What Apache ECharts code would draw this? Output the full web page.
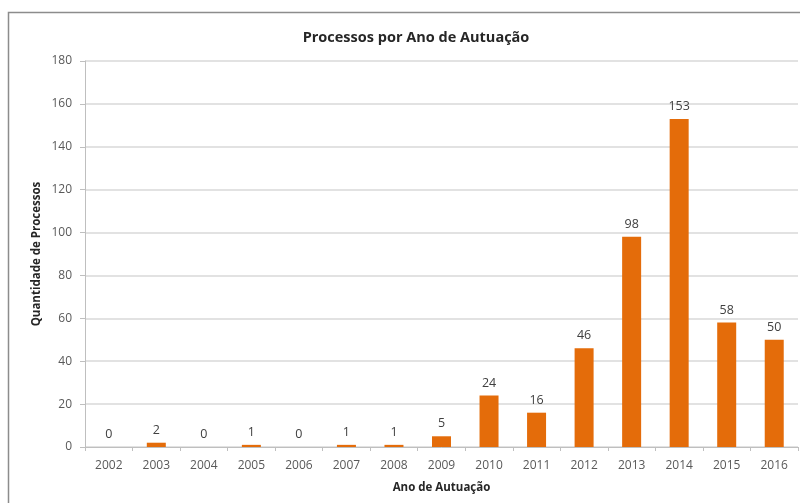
<!DOCTYPE html>
<html>
<head>
<meta charset="utf-8">
<script src="https://cdn.jsdelivr.net/npm/echarts@6/dist/echarts.min.js"></script>
<style>
  html, body { margin: 0; padding: 0; background: #fff; }
  #chart { width: 800px; height: 503px; }
</style>
</head>
<body>
<div id="chart"></div>
<script>
// Processes filed per year
const years = ['2002','2003','2004','2005','2006','2007','2008','2009','2010','2011','2012','2013','2014','2015','2016'];
const processCounts = [0, 2, 0, 1, 0, 1, 1, 5, 24, 16, 46, 98, 153, 58, 50];
const yTicks = { min: 0, max: 180, interval: 20 };

const FONT = '"Open Sans", "Noto Sans", sans-serif';
const chart = echarts.init(document.getElementById('chart'), null, { renderer: 'canvas' });

chart.setOption({
  backgroundColor: '#ffffff',
  animation: false,
  graphic: [{
    type: 'rect',
    shape: { x: 8.5, y: 12.5, width: 820, height: 520 },
    style: { fill: 'none', stroke: '#8c8c8c', lineWidth: 1.5 },
    silent: true
  }],
  title: {
    text: 'Processos por Ano de Autuação',
    left: 411,
    textAlign: 'center',
    top: 25,
    textStyle: { fontFamily: FONT, fontSize: 14.5, fontWeight: 'bold', color: '#262626' }
  },
  grid: { left: 85, right: 2, top: 61, bottom: 56, containLabel: false },
  xAxis: {
    type: 'category',
    data: years,
    name: 'Ano de Autuação',
    nameLocation: 'middle',
    nameGap: 35,
    nameTextStyle: { fontFamily: FONT, fontSize: 11.5, fontWeight: 'bold', color: '#262626' },
    axisLine: { lineStyle: { color: '#bfbfbf', width: 1 } },
    axisTick: { show: true, length: 4, lineStyle: { color: '#bfbfbf' } },
    axisLabel: { fontFamily: FONT, fontSize: 12, color: '#595959', margin: 13, interval: 0 }
  },
  yAxis: {
    type: 'value',
    min: yTicks.min,
    max: yTicks.max,
    interval: yTicks.interval,
    name: 'Quantidade de Processos',
    nameLocation: 'middle',
    nameGap: 42,
    nameMoveOverlap: false,
    nameRotate: 90,
    nameTextStyle: { fontFamily: FONT, fontSize: 11.5, fontWeight: 'bold', color: '#262626' },
    axisLine: { show: true, lineStyle: { color: '#bfbfbf', width: 1 } },
    axisTick: { show: true, length: 5, lineStyle: { color: '#bfbfbf' } },
    axisLabel: { fontFamily: FONT, fontSize: 12, color: '#595959', margin: 13 },
    splitLine: { show: true, lineStyle: { color: '#d9d9d9', width: 1.5 } }
  },
  series: [{
    type: 'bar',
    data: processCounts,
    barWidth: 19,
    itemStyle: { color: '#e46c0a' },
    label: {
      show: true,
      position: 'top',
      distance: 6,
      fontFamily: FONT,
      fontSize: 12.5,
      color: '#404040'
    }
  }]
});
</script>
</body>
</html>
